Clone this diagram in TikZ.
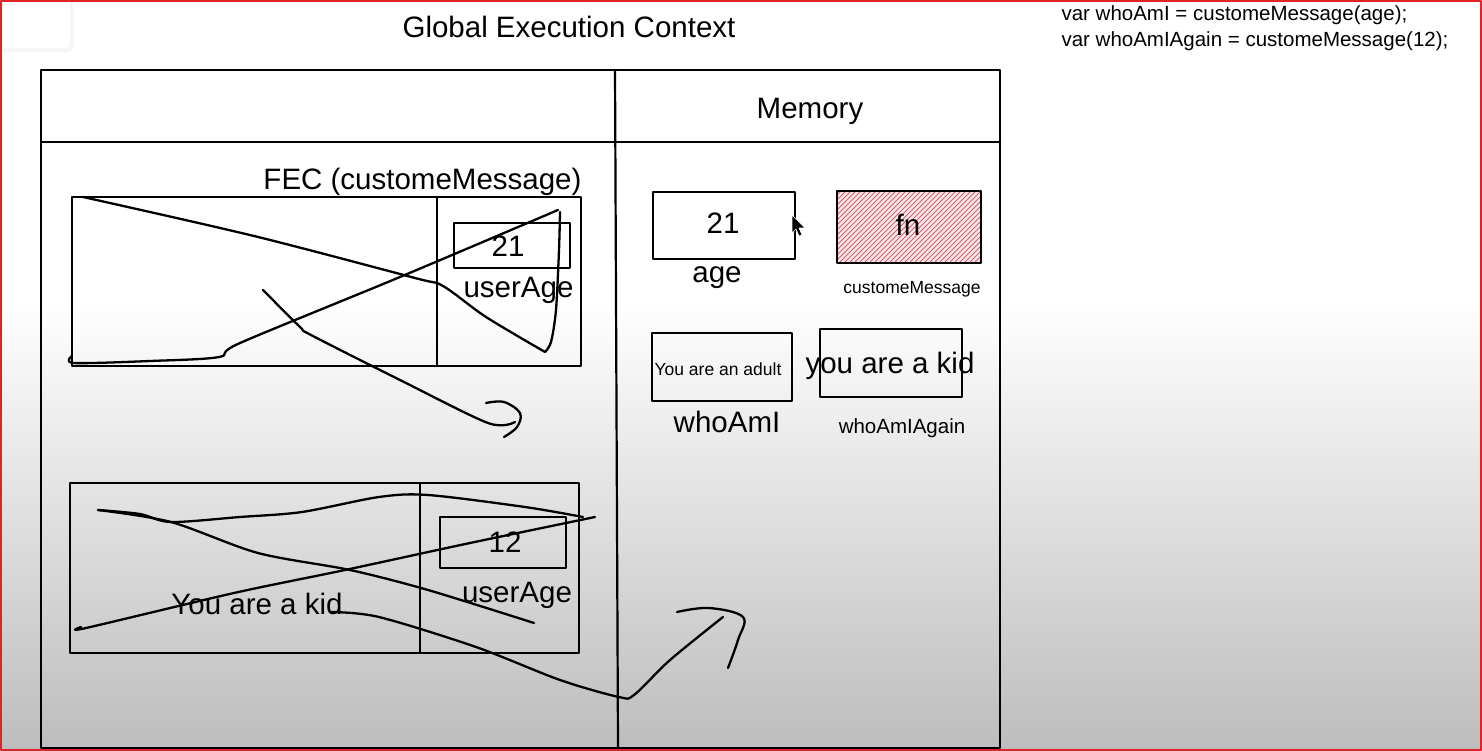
\documentclass[tikz,border=0pt]{standalone}
\usepackage{fontspec}
\setmainfont{Liberation Sans}
\usetikzlibrary{calc}
\definecolor{bordred}{HTML}{E02424}
\definecolor{hatchred}{HTML}{D4606E}

\begin{document}
\begin{tikzpicture}[x=1pt,y=-1pt,line join=round,line cap=round,
  cell/.style={draw,line width=2.2pt,inner sep=0pt},
  big/.style={font=\fontsize{29.5}{34}\selectfont,anchor=base},
  mid/.style={font=\fontsize{20.5}{25}\selectfont,anchor=base},
  tiny/.style={font=\fontsize{17.5}{21}\selectfont,anchor=base},
  scribble/.style={line width=2.3pt}]

  \useasboundingbox (0,0) rectangle (1482,751);

  % background
  \fill[white] (0,0) rectangle (1482,300);
  \shade[top color=white,bottom color=black!26] (0,300) rectangle (1482,751);
  \fill[black!4,rounded corners=6] (-10,-10) rectangle (73,52);
  \fill[white,rounded corners=5] (-10,-10) rectangle (70,48);

  % title and code
  \node[font=\fontsize{29.5}{34}\selectfont,anchor=base] (gec) at (569,38) {Global Execution Context};
  \node[mid,anchor=base west] (codeone) at (1058,21) {var whoAmI = customeMessage(age);};
  \node[mid,anchor=base west] (codetwo) at (1058,47) {var whoAmIAgain = customeMessage(12);};

  % frame
  \draw[line width=2.2pt] (41,70) rectangle (1000,748);
  \draw[line width=2.2pt] (41,142) -- (1000,142);
  \draw[line width=2.2pt] (615,70) -- (618,748);
  \node[big] (mem) at (810,119) {Memory};

  % first call of customeMessage
  \node[big] (fectitle) at (422.5,190) {FEC (customeMessage)};
  \node[cell,minimum width=509,minimum height=169] (fecone) at (326.5,281.5) {};
  \draw[line width=2.2pt] (437,197) -- (437,366);
  \node[cell,minimum width=116,minimum height=45] (argone) at (512,245.5) {};
  \node[big] (argoneval) at (508,257) {21};
  \node[big] (argonename) at (518.5,298) {userAge};

  % crossed out
  \draw[scribble] plot[smooth,tension=0.5] coordinates {(83,197) (254,236) (415,278) (443,286) (486,317) (545,352)};
  \draw[scribble] plot[smooth,tension=0.5] coordinates {(545,352) (551,342) (556,310) (559,250) (560,212)};
  \draw[scribble] plot[smooth,tension=0.5] coordinates {(72,356) (74,363) (150,361) (219,357) (240,343) (400,277) (558,210)};
  \draw[scribble] plot[smooth,tension=0.5] coordinates {(263,290) (300,327) (311,335) (400,380) (488,423) (515,422)};
  \draw[scribble] plot[smooth,tension=0.6] coordinates {(486,403) (504,402) (520,413) (517,427) (504,437)};

  % second call of customeMessage
  \node[cell,minimum width=509,minimum height=170] (fectwo) at (324.5,568) {};
  \draw[line width=2.2pt] (420,483) -- (420,653);
  \node[cell,minimum width=126,minimum height=51] (argtwo) at (503,542.5) {};
  \node[big] (argtwoval) at (505,552) {12};
  \node[big] (argtwoname) at (517,602) {userAge};
  \node[big] (kid) at (257,614) {You are a kid};

  % crossed out, result goes to memory
  \draw[scribble] plot[smooth,tension=0.5] coordinates {(98,510) (140,514) (171,522) (240,517) (302,512) (379,497) (428,495) (525,507) (583,517)};
  \draw[scribble] plot[smooth,tension=0.5] coordinates {(98,510) (171,522) (258,553) (350,570) (428,590) (534,623)};
  \draw[scribble] plot[smooth,tension=0.5] coordinates {(81,627) (86,628) (234,593) (345,570) (470,543) (595,517)};
  \draw[scribble] plot[smooth,tension=0.5] coordinates {(331,612) (379,617) (476,647) (560,680) (619,697) (634,695) (670,660) (723,617)};
  \draw[scribble] plot[smooth,tension=0.6] coordinates {(677,612) (709,608) (743,617) (738,640) (728,668)};

  % memory cells
  \node[cell,minimum width=142,minimum height=67] (agecell) at (724,225.5) {};
  \node[big] (ageval) at (723,234) {21};
  \node[big] (agename) at (717,283) {age};

  \begin{scope}
    \clip (837,191) rectangle (981,263);
    \fill[hatchred!15] (837,191) rectangle (981,263);
    \foreach \i in {-78,-73,...,150}
      \draw[hatchred,line width=0.9pt] (837+\i,263) -- ++(72,-72);
  \end{scope}
  \node[cell,minimum width=144,minimum height=72] (fncell) at (909,227) {};
  \node[big] (fnval) at (908,236) {fn};
  \node[tiny] (fnname) at (912,293) {customeMessage};

  \node[cell,minimum width=140,minimum height=68] (whocell) at (722,367) {};
  \node[tiny] (whoval) at (718,375) {You are an adult};
  \node[big] (whoname) at (727,432) {whoAmI};

  \node[cell,minimum width=142,minimum height=68] (againcell) at (891,363) {};
  \node[big] (againval) at (890,373) {you are a kid};
  \node[mid] (againname) at (902,433) {whoAmIAgain};

  % pointer
  \draw[white,fill=black,line width=0.6pt] (792,215) -- (792,233) -- (796,229) -- (799,236) -- (802,235) -- (799,228) -- (805,228) -- cycle;

  % border
  \draw[bordred,line width=2pt] (1,1) rectangle (1481,750);
\end{tikzpicture}
\end{document}
